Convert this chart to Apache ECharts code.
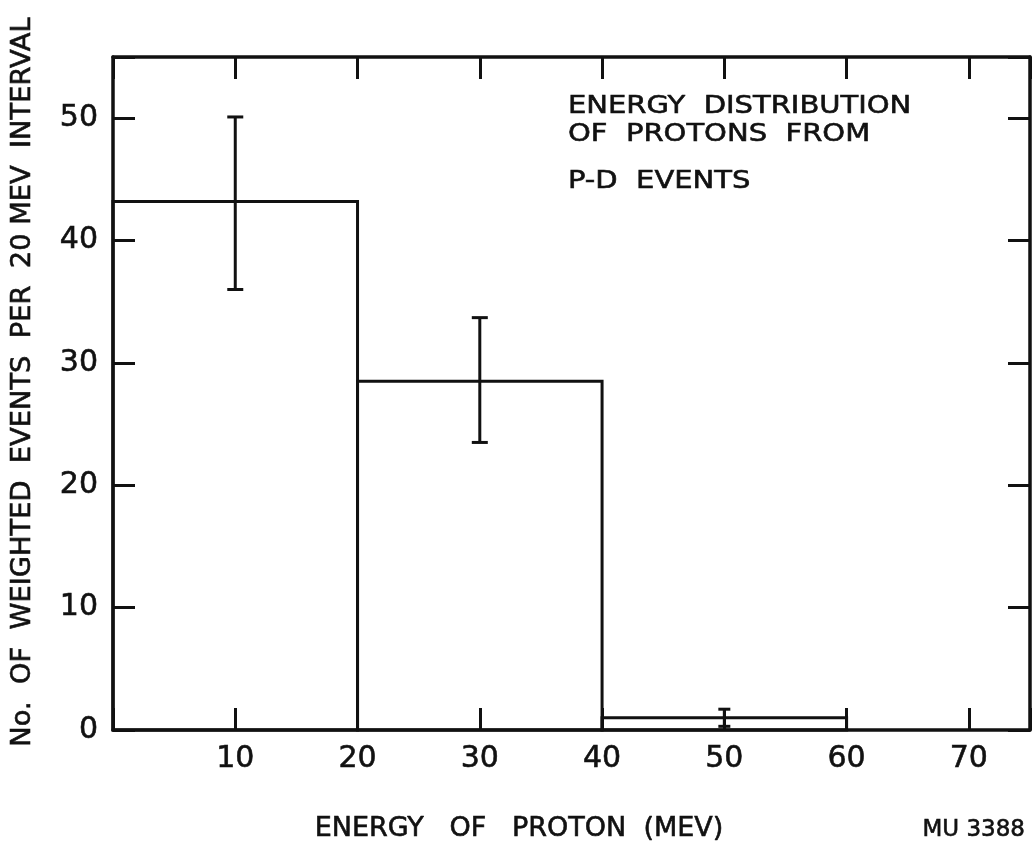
<!DOCTYPE html>
<html>
<head>
<meta charset="utf-8">
<title>Energy distribution of protons from P-D events</title>
<script src="https://cdn.jsdelivr.net/npm/echarts@6/dist/echarts.min.js"></script>
<style>
  html, body { margin: 0; padding: 0; background: #fff; }
  #chart { width: 1033px; height: 848px; }
</style>
</head>
<body>
<div id="chart"></div>
<script>
// histogram bins (MeV) and weighted counts per 20 MeV
const binEdges = [0, 20, 40, 60];
const counts = [43.2, 28.5, 1.0];
// error bars
const errX = [10, 30, 50];
const errLow = [36.0, 23.5, 0.3];
const errHigh = [50.1, 33.7, 1.7];
// axes
const xMin = 0, xMax = 75, xStep = 10;
const yMin = 0, yMax = 55, yStep = 10;

const ink = '#111';
const font = 'DejaVu Sans';

const histData = counts.map((c, i) => [binEdges[i], binEdges[i + 1], c]);
const errData = errX.map((x, i) => [x, errLow[i], errHigh[i]]);

const chart = echarts.init(document.getElementById('chart'));

function xLabel(v) {
  return (v > 0 && v % xStep === 0) ? String(v) : '';
}
function yLabel(v) {
  return (v % yStep === 0) ? String(v) : '';
}

const tickStyle = { show: true, inside: true, length: 22, lineStyle: { color: ink, width: 3 } };
const lineStyle = { show: true, onZero: false, lineStyle: { color: ink, width: 3.5 } };
const labelStyle = { color: ink, fontFamily: font, fontSize: 30, textBorderColor: ink, textBorderWidth: 0.6 };

// lettering: slightly heavier than plain DejaVu
function txt(x, y, text, size, extra) {
  return Object.assign({
    type: 'text', x: x, y: y,
    style: { text: text, font: size + 'px DejaVu Sans', fill: ink, stroke: ink, lineWidth: 0.6, textVerticalAlign: 'middle' }
  }, extra || {});
}

chart.setOption({
  backgroundColor: '#fff',
  animation: false,
  grid: { left: 113, right: 2, top: 57, bottom: 118 },
  xAxis: [
    {
      type: 'value', min: xMin, max: xMax, interval: xStep, position: 'bottom',
      axisLine: lineStyle, axisTick: tickStyle, splitLine: { show: false },
      axisLabel: Object.assign({ formatter: xLabel, margin: 14 }, labelStyle)
    },
    {
      type: 'value', min: xMin, max: xMax, interval: xStep, position: 'top',
      axisLine: lineStyle, axisTick: tickStyle, splitLine: { show: false },
      axisLabel: { show: false }
    }
  ],
  yAxis: [
    {
      type: 'value', min: yMin, max: yMax, interval: yStep, position: 'left',
      axisLine: lineStyle, axisTick: tickStyle, splitLine: { show: false },
      axisLabel: Object.assign({ formatter: yLabel, margin: 15 }, labelStyle)
    },
    {
      type: 'value', min: yMin, max: yMax, interval: yStep, position: 'right',
      axisLine: lineStyle, axisTick: tickStyle, splitLine: { show: false },
      axisLabel: { show: false }
    }
  ],
  series: [
    {
      // histogram outline
      type: 'custom',
      data: histData,
      renderItem: function (params, api) {
        const p0 = api.coord([api.value(0), 0]);
        const p1 = api.coord([api.value(1), api.value(2)]);
        return {
          type: 'rect',
          shape: { x: p0[0], y: p1[1], width: p1[0] - p0[0], height: p0[1] - p1[1] },
          style: { fill: 'none', stroke: ink, lineWidth: 3 }
        };
      },
      z: 3
    },
    {
      // error bars
      type: 'custom',
      data: errData,
      renderItem: function (params, api) {
        const lo = api.coord([api.value(0), api.value(1)]);
        const hi = api.coord([api.value(0), api.value(2)]);
        const w = params.dataIndex === 2 ? 6 : 8;
        const st = { stroke: ink, lineWidth: 3 };
        return {
          type: 'group',
          children: [
            { type: 'line', shape: { x1: lo[0], y1: lo[1], x2: hi[0], y2: hi[1] }, style: st },
            { type: 'line', shape: { x1: lo[0] - w, y1: lo[1], x2: lo[0] + w, y2: lo[1] }, style: st },
            { type: 'line', shape: { x1: hi[0] - w, y1: hi[1], x2: hi[0] + w, y2: hi[1] }, style: st }
          ]
        };
      },
      z: 4
    }
  ],
  graphic: [
    txt(568, 106, 'ENERGY  DISTRIBUTION', 25, { scaleX: 1.16 }),
    txt(568, 134, 'OF  PROTONS  FROM', 25, { scaleX: 1.16 }),
    txt(568, 181, 'P-D  EVENTS', 25, { scaleX: 1.16 }),
    (function () {
      const t = txt(519, 829, 'ENERGY   OF   PROTON  (MEV)', 27);
      t.style.textAlign = 'center';
      return t;
    })(),
    (function () {
      const t = txt(1025, 830, 'MU 3388', 23);
      t.style.textAlign = 'right';
      return t;
    })(),
    (function () {
      const t = txt(23, 382, 'No.  OF  WEIGHTED  EVENTS  PER  20 MEV  INTERVAL', 26, { rotation: Math.PI / 2, scaleX: 1.05 });
      t.style.textAlign = 'center';
      return t;
    })()
  ]
});
</script>
</body>
</html>
